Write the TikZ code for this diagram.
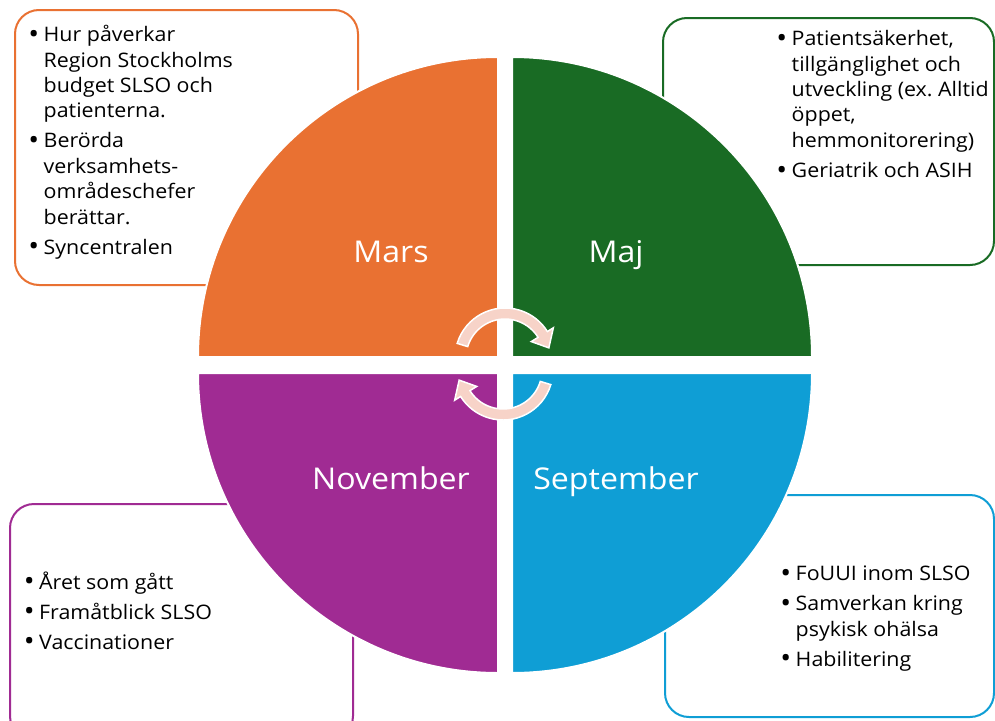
\documentclass[tikz,border=0pt]{standalone}
\usepackage{fontspec}
\setmainfont{Open Sans}[FakeStretch=1.07]
\definecolor{qorange}{HTML}{E97132}
\definecolor{qgreen}{HTML}{196B24}
\definecolor{qblue}{HTML}{0F9ED5}
\definecolor{qpurple}{HTML}{A02B93}
\definecolor{qpink}{HTML}{F7D3C8}
\newcommand\bigbul{\raisebox{-1.8pt}{\fontsize{27}{27}\selectfont\textbullet}}
\newcommand\bitem[1]{\par\hangindent=14.5pt\hangafter=1\noindent\makebox[14.5pt][l]{\hspace{-0.8pt}\bigbul}#1\par}
\newcommand\blist[1]{\parbox[t]{300pt}{\fontsize{20}{25.4}\selectfont\frenchspacing\setlength\parskip{4.6pt}#1}}
\begin{document}
\begin{tikzpicture}[x=1pt,y=1pt,
  infobox/.style={line width=2pt, fill=white, rounded corners=24pt},
  quad/.style={draw=white, line width=2pt},
  listtext/.style={anchor=base west, inner sep=0pt, text=black},
  qlabel/.style={anchor=base, inner sep=0pt, text=white, font=\fontsize{30}{36}\selectfont},
  cyc/.style={fill=qpink, draw=white, line width=1.5pt}]
\useasboundingbox (0,0) rectangle (995,-720);
% boxes
\draw[infobox, draw=qorange] (15,-10) rectangle (358,-285);
\draw[infobox, draw=qgreen] (663,-18) rectangle (994,-265);
\draw[infobox, draw=qpurple] (10,-504) rectangle (353,-740);
\draw[infobox, draw=qblue] (665,-495) rectangle (994,-717);
% quadrants
\filldraw[quad, fill=qorange] (498,-357) -- (198,-357) arc[start angle=180, end angle=90, radius=300] -- cycle;
\filldraw[quad, fill=qgreen] (512,-357) -- (512,-57) arc[start angle=90, end angle=0, radius=300] -- cycle;
\filldraw[quad, fill=qpurple] (498,-373) -- (198,-373) arc[start angle=180, end angle=270, radius=300] -- cycle;
\filldraw[quad, fill=qblue] (512,-373) -- (812,-373) arc[start angle=0, end angle=-90, radius=300] -- cycle;
% labels
\node[qlabel] (lmars) at (391,-262) {Mars};
\node[qlabel] (lmaj) at (616,-262) {Maj};
\node[qlabel] (lnov) at (391,-489) {November};
\node[qlabel] (lsep) at (616,-489) {September};
% cycle arrows
\begin{scope}[shift={(505,-358)}]
\filldraw[cyc] (163:50) arc[start angle=163, end angle=32, radius=50] -- (32:57) -- (13:45) -- (32:31) -- (32:39) arc[start angle=32, end angle=163, radius=39] -- cycle;
\end{scope}
\begin{scope}[shift={(503,-370)}]
\filldraw[cyc] (-17:50) arc[start angle=-17, end angle=-148, radius=50] -- (-148:57) -- (-167:45) -- (-148:31) -- (-148:39) arc[start angle=-148, end angle=-17, radius=39] -- cycle;
\end{scope}
% texts
\node[listtext] (tmars) at (29,-41.7) {\blist{%
\bitem{Hur påverkar\\Region Stockholms\\budget SLSO och\\patienterna.}
\bitem{Berörda\\verksamhets-\\områdeschefer\\berättar.}
\bitem{Syncentralen}}};
\node[listtext] (tmaj) at (777,-45.7) {\blist{%
\bitem{Patientsäkerhet,\\tillgänglighet och\\utveckling (ex. Alltid\\öppet,\\hemmonitorering)}
\bitem{Geriatrik och ASIH}}};
\node[listtext] (tnov) at (24.5,-589) {\blist{%
\bitem{Året som gått}
\bitem{Framåtblick SLSO}
\bitem{Vaccinationer}}};
\node[listtext] (tsep) at (781,-580.7) {\blist{%
\bitem{FoUUI inom SLSO}
\bitem{Samverkan kring\\psykisk ohälsa}
\bitem{Habilitering}}};
\end{tikzpicture}
\end{document}
